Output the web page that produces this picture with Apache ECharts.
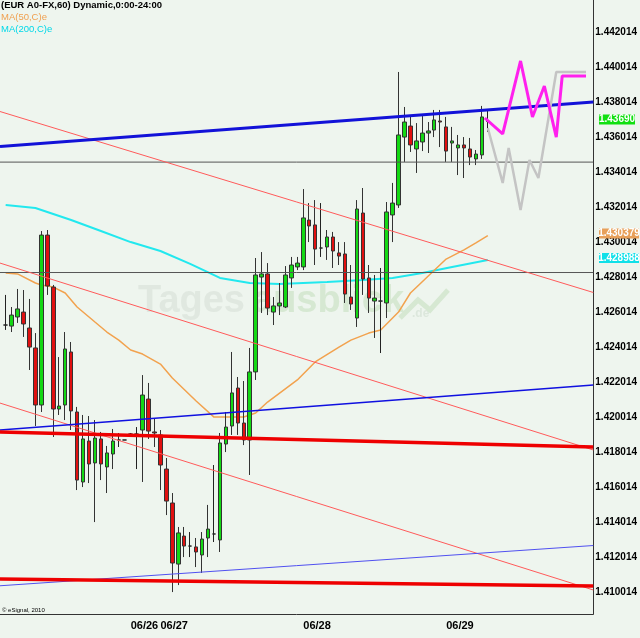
<!DOCTYPE html>
<html>
<head>
<meta charset="utf-8">
<script src="https://cdn.jsdelivr.net/npm/echarts@6/dist/echarts.min.js"></script>
<style>
html, body { margin: 0; padding: 0; background: #eef5ee; }
#main { width: 640px; height: 638px; }
</style>
</head>
<body>
<div id="main"></div>
<script>
// hourly candles, EUR A0-FX 60 min (index = bar number)
let opens = [1.42527, 1.42521, 1.42573, 1.42601, 1.42510, 1.42396, 1.42070, 1.43041, 1.42744, 1.42047,
    1.42070, 1.42373, 1.42030, 1.41630, 1.41864, 1.41739, 1.41876, 1.41716, 1.41790, 1.41870,
    1.41870, 1.41904, 1.41904, 1.41927, 1.42104, 1.41916, 1.41899, 1.41704, 1.41510, 1.41161,
    1.41321, 1.41264, 1.41259, 1.41213, 1.41310, 1.41333, 1.41299, 1.41847, 1.41950, 1.42167,
    1.41967, 1.41870, 1.42259, 1.42801, 1.42819, 1.42601, 1.42636, 1.42630, 1.42796, 1.42859,
    1.42859, 1.43127, 1.43099, 1.42967, 1.42973, 1.43030, 1.42939, 1.42933, 1.42687, 1.42567,
    1.43167, 1.42796, 1.42664, 1.42664, 1.42653, 1.43156, 1.43213, 1.43601, 1.43664, 1.43533,
    1.43573, 1.43624, 1.43641, 1.43693, 1.43659, 1.43567, 1.43539, 1.43556, 1.43533, 1.43476,
    1.43499, 1.43690];
let closes = [1.42527, 1.42584, 1.42619, 1.42533, 1.42401, 1.42070, 1.43041, 1.42750, 1.42047, 1.42064,
    1.42390, 1.42036, 1.41641, 1.41876, 1.41733, 1.41881, 1.41733, 1.41796, 1.41864, 1.41870,
    1.41870, 1.41904, 1.41904, 1.42127, 1.41921, 1.41910, 1.41727, 1.41521, 1.41167, 1.41339,
    1.41264, 1.41264, 1.41230, 1.41304, 1.41361, 1.41333, 1.41853, 1.41944, 1.42139, 1.41967,
    1.41870, 1.42259, 1.42813, 1.42819, 1.42624, 1.42636, 1.42653, 1.42813, 1.42870, 1.42881,
    1.43139, 1.43093, 1.42961, 1.42967, 1.43030, 1.42950, 1.42921, 1.42704, 1.42647, 1.43190,
    1.42790, 1.42681, 1.42681, 1.42664, 1.43173, 1.43224, 1.43613, 1.43687, 1.43556, 1.43579,
    1.43624, 1.43636, 1.43699, 1.43687, 1.43521, 1.43579, 1.43556, 1.43539, 1.43487, 1.43504,
    1.43716, 1.43690];
let lows = [1.42499, 1.42487, 1.42539, 1.42459, 1.42270, 1.41950, 1.42030, 1.42699, 1.41887, 1.42013,
    1.41984, 1.41927, 1.41584, 1.41601, 1.41624, 1.41401, 1.41641, 1.41567, 1.41704, 1.41830,
    1.41870, 1.41899, 1.41704, 1.41630, 1.41876, 1.41830, 1.41584, 1.41441, 1.41001, 1.41041,
    1.41201, 1.41201, 1.41144, 1.41110, 1.41201, 1.41287, 1.41230, 1.41801, 1.41899, 1.41899,
    1.41841, 1.41670, 1.42213, 1.42596, 1.42584, 1.42527, 1.42584, 1.42624, 1.42739, 1.42841,
    1.42841, 1.43001, 1.42870, 1.42916, 1.42899, 1.42853, 1.42870, 1.42653, 1.42613, 1.42516,
    1.42699, 1.42596, 1.42453, 1.42367, 1.42567, 1.43001, 1.43196, 1.43459, 1.43516, 1.43396,
    1.43521, 1.43510, 1.43601, 1.43544, 1.43459, 1.43459, 1.43384, 1.43367, 1.43441, 1.43441,
    1.43476, 1.43630];
let highs = [1.42699, 1.42630, 1.42733, 1.42727, 1.42676, 1.42481, 1.43064, 1.43070, 1.42756, 1.42344,
    1.42487, 1.42430, 1.42059, 1.42013, 1.42007, 1.41984, 1.41916, 1.41836, 1.41933, 1.41910,
    1.41870, 1.41910, 1.41944, 1.42241, 1.42196, 1.41990, 1.41927, 1.41767, 1.41567, 1.41373,
    1.41373, 1.41344, 1.41310, 1.41344, 1.41499, 1.41727, 1.41910, 1.42030, 1.42373, 1.42230,
    1.42207, 1.42396, 1.42910, 1.42944, 1.42881, 1.42687, 1.42767, 1.42864, 1.42916, 1.42916,
    1.43304, 1.43224, 1.43241, 1.43224, 1.43070, 1.43059, 1.43001, 1.43001, 1.42870, 1.43241,
    1.43310, 1.42870, 1.42813, 1.42853, 1.43230, 1.43339, 1.43973, 1.43773, 1.43727, 1.43681,
    1.43721, 1.43687, 1.43756, 1.43756, 1.43716, 1.43659, 1.43613, 1.43601, 1.43596, 1.43527,
    1.43779, 1.43756];

// moving averages: [bar, value]
let ma50 = [[0, 1.42824], [2, 1.42819], [5, 1.42767], [6, 1.42756], [8, 1.42744], [10, 1.42710],
    [12, 1.42630], [15, 1.42544], [17, 1.42487], [19, 1.42441], [21, 1.42384], [23, 1.42361],
    [26, 1.42304], [28, 1.42224], [32, 1.42093], [35, 1.42001], [40, 1.42001], [42, 1.42024],
    [44, 1.42087], [49, 1.42213], [52, 1.42316], [56, 1.42401], [58, 1.42441], [61, 1.42481],
    [63, 1.42499], [66, 1.42601], [68, 1.42710], [71, 1.42807], [74, 1.42904], [77, 1.42956],
    [79, 1.42996], [81, 1.43038]];
let ma200 = [[0, 1.43213], [5, 1.43196], [11, 1.43127], [16, 1.43064], [21, 1.43001], [26, 1.42950],
    [31, 1.42876], [36, 1.42796], [41, 1.42767], [46, 1.42761], [54, 1.42773], [60, 1.42784],
    [65, 1.42796], [70, 1.42824], [75, 1.42859], [81, 1.42899]];

// projections after the last bar
let projUp = [[80.5, 1.43710], [83.5, 1.43619], [86.5, 1.44036], [88.5, 1.43716], [90.5, 1.43893],
    [92.5, 1.43601], [93.5, 1.43950], [97.5, 1.43950]];
let projDown = [[81, 1.43653], [83.5, 1.43339], [84.5, 1.43539], [86.5, 1.43184], [88, 1.43470],
    [89.5, 1.43367], [92.5, 1.43973], [97.5, 1.43973]];

// drawn trend lines, endpoints [bar, price]
let X0 = -0.95, X1 = 98.72;
let blueTop = [[X0, 1.43547], [X1, 1.43802]];
let blueMid = [[X0, 1.41927], [X1, 1.42184]];
let blueLow = [[X0, 1.41037], [X1, 1.41267]];
let redTop = [[X0, 1.41916], [X1, 1.41830]];
let redLow = [[X0, 1.41076], [X1, 1.41036]];
let thinRedA = [[X0, 1.43747], [X1, 1.42713]];
let thinRedB = [[X0, 1.42881], [X1, 1.41813]];
let thinRedC = [[X0, 1.42081], [X1, 1.41013]];
let flatA = [[X0, 1.43458], [X1, 1.43458]];
let flatB = [[X0, 1.42827], [X1, 1.42827]];

let yTicks = [1.410014, 1.412014, 1.414014, 1.416014, 1.418014, 1.420014, 1.422014, 1.424014,
    1.426014, 1.428014, 1.430014, 1.432014, 1.434014, 1.436014, 1.438014, 1.440014, 1.442014];
let dateTicks = [21, 26, 50, 74];
let dateLabels = ['06/26', '06/27', '06/28', '06/29'];

let lastPrice = 1.43690, ma50Last = 1.430379, ma200Last = 1.428988;

let candles = opens.map((o, i) => [i, o, closes[i], lows[i], highs[i]]);

let line = (data, color, width, z) => ({
    type: 'line',
    data,
    showSymbol: false,
    silent: true,
    z,
    lineStyle: { color, width }
});

let option = {
    backgroundColor: '#eef5ee',
    animation: false,
    grid: { left: 0, top: 0, width: 598, height: 614 },
    xAxis: {
        type: 'value',
        min: X0,
        max: X1,
        axisLine: { show: true, onZero: false, lineStyle: { color: '#333', width: 1 } },
        axisTick: { show: false },
        splitLine: { show: false },
        axisLabel: {
            customValues: dateTicks,
            formatter: v => dateLabels[dateTicks.indexOf(Math.round(v))] || '',
            align: 'left',
            margin: 6,
            color: '#000',
            fontSize: 11,
            fontWeight: 'bold',
            fontFamily: "'Liberation Sans Narrow', Arial"
        }
    },
    yAxis: {
        type: 'value',
        position: 'right',
        min: 1.408757,
        max: 1.443843,
        scale: true,
        axisLine: { show: true, onZero: false, lineStyle: { color: '#333', width: 1 } },
        axisTick: { show: false },
        splitLine: { show: false },
        axisLabel: {
            customValues: yTicks,
            formatter: v => v.toFixed(6),
            margin: 2,
            color: '#000',
            fontSize: 10,
            fontWeight: 'bold',
            fontFamily: 'Arial'
        }
    },
    graphic: [
        { type: 'text', left: 138, top: 283, z: 0, silent: true,
          style: { text: 'Tages', fill: '#e0e8e0', font: 'bold 38px Arial' } },
        { type: 'text', left: 252, top: 283, z: 0, silent: true,
          style: { text: 'ausblick', fill: '#d6e8d2', font: 'bold 38px Arial' } },
        { type: 'text', left: 412, top: 308, z: 0, silent: true,
          style: { text: '.de', fill: '#dce7dc', font: 'bold 12px Arial' } },
        { type: 'polyline', z: 0, silent: true,
          shape: { points: [[400, 318], [418, 300], [430, 310], [448, 290]] },
          style: { stroke: '#d6e8d2', lineWidth: 5, fill: null } },
        { type: 'text', left: 1, top: 0, silent: true,
          style: { text: '(EUR A0-FX,60) Dynamic,0:00-24:00', fill: '#000', font: 'bold 9.5px Arial' } },
        { type: 'text', left: 1, top: 12, silent: true,
          style: { text: 'MA(50,C)e', fill: '#f0a050', font: '9.5px Arial' } },
        { type: 'text', left: 1, top: 24, silent: true,
          style: { text: 'MA(200,C)e', fill: '#00d8e8', font: '9.5px Arial' } },
        { type: 'text', left: 2, top: 607, silent: true,
          style: { text: '© eSignal, 2010', fill: '#000', font: '6px Arial' } }
    ],
    series: [
        line(ma200, '#22e8ee', 2, 1),
        line(ma50, '#f2a24e', 1.5, 1),
        {
            type: 'candlestick',
            data: candles,
            encode: { x: 0, y: [1, 2, 3, 4] },
            barWidth: 4,
            z: 2,
            silent: true,
            itemStyle: {
                color: '#14d814',
                color0: '#e01010',
                borderColor: '#333',
                borderColor0: '#333',
                borderColorDoji: '#222',
                borderWidth: 1
            }
        },
        line(flatA, '#555', 1, 3),
        line(flatB, '#555', 1, 3),
        line(thinRedA, '#ff5a5a', 1, 3),
        line(thinRedB, '#ff5a5a', 1, 3),
        line(thinRedC, '#ff5a5a', 1, 3),
        line(blueLow, '#5050f0', 1, 3),
        line(blueMid, '#1010e0', 1.5, 3),
        line(blueTop, '#1212d8', 3, 3),
        line(redTop, '#ee0000', 3.5, 3),
        line(redLow, '#ee0000', 3.5, 3),
        line(projDown, '#c4c4c4', 2.5, 4),
        line(projUp, '#ff20ee', 3, 4)
    ]
};

let chart = echarts.init(document.getElementById('main'));
chart.setOption(option);

// value boxes on the price scale
let boxes = [
    { v: lastPrice, text: lastPrice.toFixed(5), bg: '#10e010', w: 36 },
    { v: ma50Last, text: ma50Last.toFixed(6), bg: '#e8a05a', w: 40 },
    { v: ma200Last, text: ma200Last.toFixed(6), bg: '#10e0e8', w: 40 }
];
let extra = [];
boxes.forEach(b => {
    let y = chart.convertToPixel({ yAxisIndex: 0 }, b.v) - 2;
    extra.push({ type: 'rect', shape: { x: 599, y: y - 5, width: b.w, height: 10 }, style: { fill: b.bg }, z: 10 });
    extra.push({ type: 'text', x: 599 + b.w / 2, y, z: 11,
        style: { text: b.text, fill: '#fff', font: 'bold 10px Arial', align: 'center', verticalAlign: 'middle' } });
});
chart.setOption({ graphic: option.graphic.concat(extra) });
</script>
</body>
</html>
